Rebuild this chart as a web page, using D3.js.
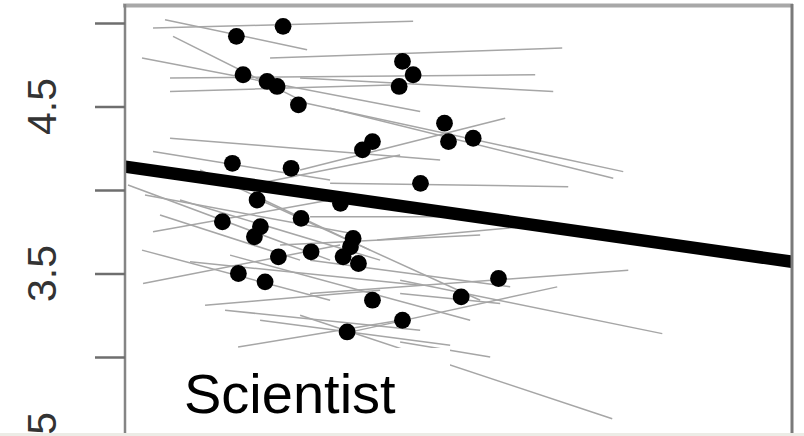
<!DOCTYPE html>
<html>
<head>
<meta charset="utf-8">
<script src="https://cdn.jsdelivr.net/npm/d3@7"></script>
<style>
  html, body { margin: 0; padding: 0; background: #ffffff; }
  svg { display: block; }
</style>
</head>
<body>
<script>
// ---- data ----
const yTicks = [2.5, 3.0, 3.5, 4.0, 4.5, 5.0];
const yTickLabels = ["2.5", "3.5", "4.5"];
const panelLabel = "Scientist";

// subject means (points)
const pointX = [23.7, 16.7, 17.7, 21.3, 22.8, 26.0, 41.6, 43.2, 41.1, 47.9, 48.5, 52.2,
                37.1, 35.6, 44.3, 16.1, 24.9, 19.8, 32.3, 14.6, 26.4, 20.3, 19.4, 23.0,
                27.9, 34.2, 33.8, 32.7, 35.0, 17.0, 21.0, 37.1, 50.4, 56.0, 41.6, 33.3];
const pointY = [4.98, 4.92, 4.69, 4.65, 4.62, 4.51, 4.77, 4.69, 4.62, 4.40, 4.29, 4.31,
                4.29, 4.24, 4.04, 4.16, 4.13, 3.94, 3.92, 3.81, 3.83, 3.78, 3.72, 3.60,
                3.63, 3.71, 3.66, 3.60, 3.56, 3.50, 3.45, 3.34, 3.36, 3.47, 3.22, 3.15];

// per-subject fitted lines
const lineX1 = [4.2, 6.0, 7.2, 2.55, 21.75, 6.75, 6.75, 26.25, 24.75, 30.75, 26.25, 6.75,
                4.2, 21.3, 30.75, 0.45, 3.0, 4.2, 2.55, 2.7, 12.0, 15.0, 16.95, 27.75,
                37.8, 27.75, 27.75, 32.7, 41.25, 41.25, 26.25, 41.25, 8.25, 11.25, 20.25,
                15.75, 5.25, 23.25, 9.75, 20.25];
const lineY1 = [4.97, 5.02, 4.92, 4.79, 4.79, 4.67, 4.59, 4.67, 4.54, 4.49, 4.12, 4.31,
                4.23, 4.05, 4.04, 4.03, 3.97, 3.75, 3.64, 3.44, 3.31, 3.28, 3.06, 3.84,
                3.70, 3.58, 3.38, 3.14, 3.46, 3.09, 3.25, 3.38, 3.94, 4.12, 3.94,
                3.61, 3.85, 3.67, 3.57, 3.22];
const lineX2 = [43.2, 27.3, 26.25, 44.25, 65.55, 61.5, 41.25, 64.2, 74.7, 73.2, 57.0, 47.25,
                30.75, 41.25, 66.45, 30.75, 35.25, 30.75, 30.75, 32.25, 38.25, 44.25, 41.25, 57.75,
                62.25, 57.75, 75.45, 64.8, 80.55, 54.75, 73.05, 56.25, 38.25, 36.75, 53.25,
                51.75, 26.25, 53.25, 44.25, 48.75];
const lineY2 = [5.01, 4.84, 4.54, 4.47, 4.85, 4.69, 4.63, 4.59, 4.11, 4.07, 4.43, 4.18,
                4.06, 4.21, 4.02, 3.58, 3.73, 3.94, 3.34, 3.67, 3.40, 3.16, 3.22, 3.84,
                3.79, 3.42, 3.52, 3.42, 3.14, 3.00, 2.63, 3.32, 3.58, 3.64, 3.34,
                3.22, 3.58, 3.73, 3.43, 3.07];

// overall fixed-effect line
const fitX = [0, 100];
const fitY = [4.14, 3.57];

// ---- drawing ----
const W = 804, H = 436;
const svg = d3.select("body").append("svg").attr("width", W).attr("height", H);

const x = d3.scaleLinear().domain([0, 100]).range([125, 792]);
const y = d3.scaleLinear().domain([2.5, 5.0]).range([440.5, 23]);

const defs = svg.append("defs");
defs.append("clipPath").attr("id", "plotclip")
  .append("rect").attr("x", 126).attr("y", 6).attr("width", 665).attr("height", 430);
defs.append("filter").attr("id", "soft").attr("x", "-5%").attr("y", "-5%")
  .attr("width", "110%").attr("height", "110%")
  .append("feGaussianBlur").attr("stdDeviation", 0.55);

const plot = svg.append("g").attr("clip-path", "url(#plotclip)")
  .append("g").attr("filter", "url(#soft)");

// subject lines
const idx = d3.range(lineX1.length);
plot.selectAll("line.subj").data(idx).join("line")
  .attr("class", "subj")
  .attr("x1", i => x(lineX1[i])).attr("y1", i => y(lineY1[i]))
  .attr("x2", i => x(lineX2[i])).attr("y2", i => y(lineY2[i]))
  .attr("stroke", "#a6a6a6").attr("stroke-width", 1.5);

// points
plot.selectAll("circle").data(d3.range(pointX.length)).join("circle")
  .attr("cx", i => x(pointX[i])).attr("cy", i => y(pointY[i]))
  .attr("r", 8.4).attr("fill", "#000");

// overall line
plot.append("path")
  .attr("d", d3.line().x(d => x(d[0])).y(d => y(d[1]))(fitX.map((v, i) => [v, fitY[i]])))
  .attr("stroke", "#000").attr("stroke-width", 12.5).attr("fill", "none");

// white legend box with label
svg.append("rect").attr("x", 127).attr("y", 348).attr("width", 323).attr("height", 90)
  .attr("fill", "#fff");
svg.append("text").attr("x", 184).attr("y", 413)
  .attr("font-family", "Liberation Sans, Arial, sans-serif").attr("font-size", 56)
  .attr("fill", "#000").text(panelLabel);

// frame
svg.append("line").attr("x1", 123).attr("x2", 793).attr("y1", 5.5).attr("y2", 5.5)
  .attr("stroke", "#a8a8a8").attr("stroke-width", 4);
svg.append("line").attr("x1", 792).attr("x2", 792).attr("y1", 4).attr("y2", 436)
  .attr("stroke", "#7a7a7a").attr("stroke-width", 3);

// y axis
const yAxis = d3.axisLeft(y).tickValues(yTicks).tickSize(30).tickFormat("");
const ga = svg.append("g").attr("transform", "translate(125,0)").call(yAxis);
ga.select(".domain").attr("stroke", "#858585").attr("stroke-width", 2.5)
  .attr("d", `M0,4V436`);
ga.selectAll(".tick line").attr("stroke", "#6e6e6e").attr("stroke-width", 2.5);

svg.selectAll("text.ylab").data(yTickLabels).join("text")
  .attr("class", "ylab")
  .attr("transform", d => `translate(56,${y(+d)}) rotate(-90)`)
  .attr("text-anchor", "middle")
  .attr("font-family", "Liberation Sans, Arial, sans-serif").attr("font-size", 41)
  .attr("fill", "#333").text(d => d);

// bottom strip
svg.append("rect").attr("x", 0).attr("y", 433).attr("width", W).attr("height", 3)
  .attr("fill", "#ecece6");
</script>
</body>
</html>
